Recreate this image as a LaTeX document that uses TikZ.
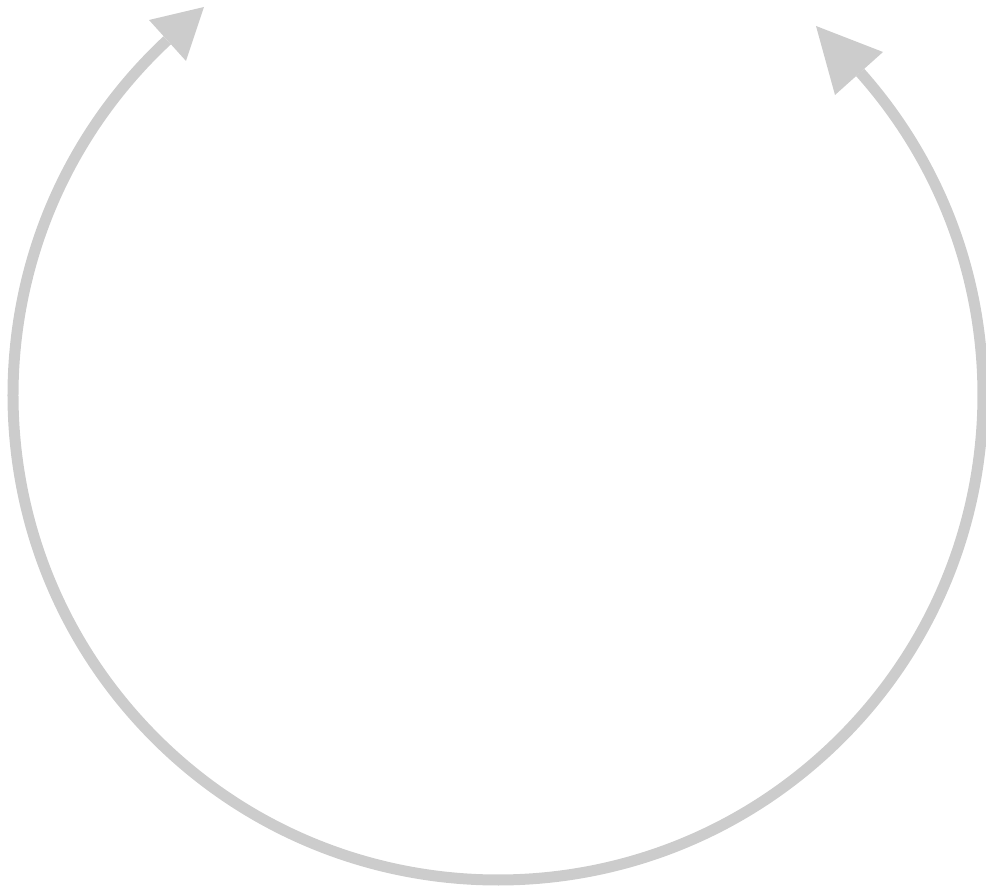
\documentclass[tikz,border=0pt]{standalone}
\definecolor{arcgray}{HTML}{CCCCCC}
\begin{document}
\begin{tikzpicture}[x=1pt,y=1pt,
  arcline/.style={draw=arcgray,line width=11pt},
  headtri/.style={fill=arcgray}]
\useasboundingbox (0,0) rectangle (986,886);
\coordinate (c) at (498,491);
\draw[arcline] ([shift={(133.0:485)}]c) arc[start angle=133.0,end angle=401.7,radius=485];
\fill[headtri] (204,879) -- (149,866) -- (186,825) -- cycle;
\fill[headtri] (816,860) -- (883,834) -- (835,791) -- cycle;
\end{tikzpicture}
\end{document}
